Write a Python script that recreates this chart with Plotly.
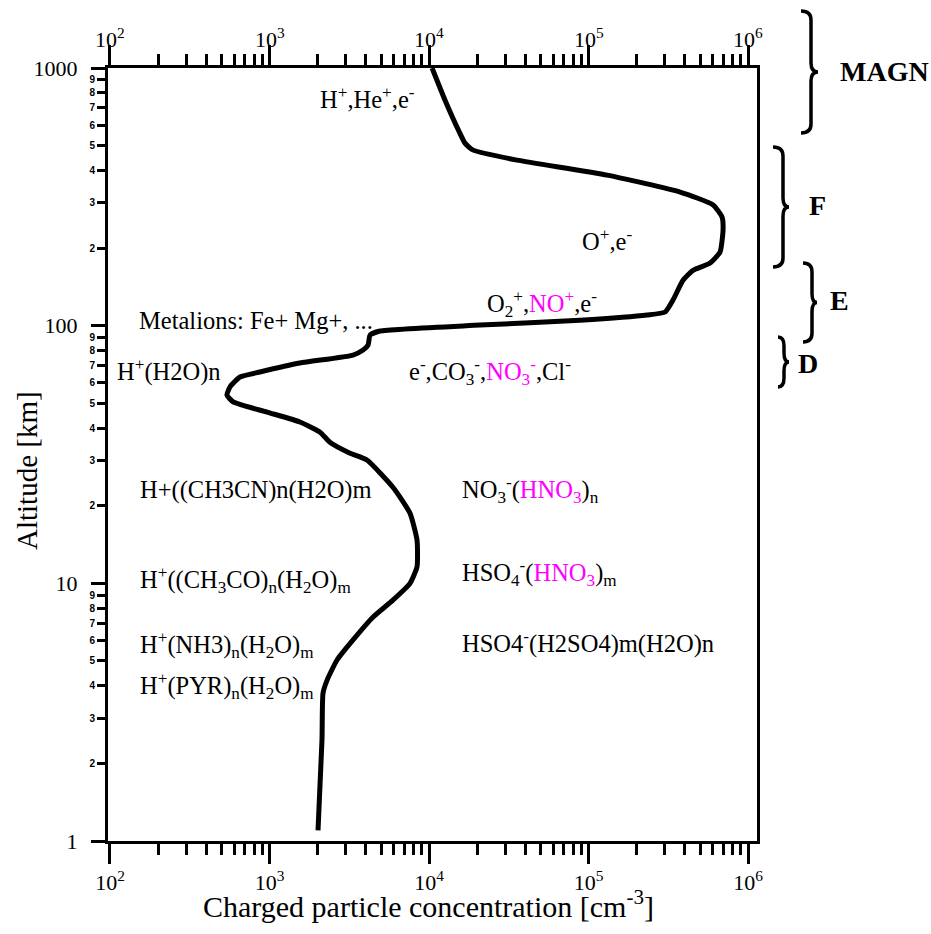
import math
import plotly.graph_objects as go

# ---------------- data ----------------
concentration = [10450, 12600, 15600, 16800, 18900, 35600, 130600, 375000, 604000, 687000,
                 697000, 667000, 578000, 452000, 391000, 339000, 302000, 233000, 88500, 20900,
                 4930, 4270, 4150, 3860, 3340, 1550, 871, 653, 565, 541,
                 591, 964, 1550, 2075, 2390, 3200, 4080, 5940, 7600, 8410,
                 8410, 7600, 5940, 4460, 3340, 2650, 2300, 2165, 2133, 2014]
altitude = [1000, 750, 559, 511, 480, 439, 384, 330, 294, 264,
            235, 193, 175, 164, 150, 126, 113, 110, 105, 100.5,
            95.3, 92.0, 84.1, 80.4, 76.9, 71.6, 66.1, 63.2, 57.8, 53.8,
            50.6, 46.2, 42.3, 38.6, 35.3, 32.0, 30.1, 23.6, 18.7, 14.7,
            11.6, 10.0, 8.61, 7.40, 6.03, 5.04, 4.22, 3.75, 2.47, 1.10]

x_major = [1e2, 1e3, 1e4, 1e5, 1e6]
x_major_text = ["10<sup>2</sup>", "10<sup>3</sup>", "10<sup>4</sup>", "10<sup>5</sup>", "10<sup>6</sup>"]
x_minor = [m * 10 ** e for e in range(2, 6) for m in range(2, 10)]

y_major = [1, 10, 100, 1000]
y_major_text = ["1", "10", "100", "1000"]
y_minor = [m * 10 ** e for e in range(0, 3) for m in range(2, 10)]
y_minor_text = [str(m) for e in range(0, 3) for m in range(2, 10)]

MAG = "#ff00ff"
def mg(s):
    return "<span style='color:%s'>%s</span>" % (MAG, s)

species_labels = [
    "H<sup>+</sup>,He<sup>+</sup>,e<sup>-</sup>",
    "O<sup>+</sup>,e<sup>-</sup>",
    "O<sub>2</sub><sup>+</sup>," + mg("NO<sup>+</sup>") + ",e<sup>-</sup>",
    "Metalions: Fe+ Mg+, ...",
    "H<sup>+</sup>(H2O)n",
    "e<sup>-</sup>,CO<sub>3</sub><sup>-</sup>," + mg("NO<sub>3</sub><sup>-</sup>") + ",Cl<sup>-</sup>",
    "H+((CH3CN)n(H2O)m",
    "NO<sub>3</sub><sup>-</sup>(" + mg("HNO<sub>3</sub>") + ")<sub>n</sub>",
    "H<sup>+</sup>((CH<sub>3</sub>CO)<sub>n</sub>(H<sub>2</sub>O)<sub>m</sub>",
    "HSO<sub>4</sub><sup>-</sup>(" + mg("HNO<sub>3</sub>") + ")<sub>m</sub>",
    "H<sup>+</sup>(NH3)<sub>n</sub>(H<sub>2</sub>O)<sub>m</sub>",
    "HSO4<sup>-</sup>(H2SO4)m(H2O)n",
    "H<sup>+</sup>(PYR)<sub>n</sub>(H<sub>2</sub>O)<sub>m</sub>",
]
region_labels = ["MAGN", "F", "E", "D"]

# ---------------- layout geometry (pixels) ----------------
W, H = 931, 934
L, R, T, B = 108, 757, 68, 841

def px(xp):
    return (xp - L) / (R - L)

def py(yp):
    return (B - yp) / (B - T)

species_pos = [(318, 98), (580, 240), (485, 304), (137, 320), (115, 370), (407, 372),
               (138, 490), (460, 490), (138, 580), (460, 573), (138, 645), (460, 642), (138, 686)]
region_pos = [(838, 71), (807, 205), (828, 300), (796, 363)]
braces = [(801, 811, 818, 11, 133), (773, 783, 789, 147, 267),
          (803, 812, 817, 263, 342), (778, 784, 789, 337, 387)]

FONT = "'Liberation Serif', 'Times New Roman', 'DejaVu Serif', serif"

fig = go.Figure()
fig.add_trace(go.Scatter(x=concentration, y=altitude, mode="lines",
                         line=dict(color="black", width=5, shape="spline", smoothing=0.5),
                         hoverinfo="skip", showlegend=False))

xr = [1.9875, 6.056]
common_x = dict(type="log", range=xr, tickmode="array", tickvals=x_major, ticktext=x_major_text,
                ticks="outside", ticklen=20, tickwidth=3, tickcolor="black",
                minor=dict(tickmode="array", tickvals=x_minor, ticks="outside", ticklen=11,
                           tickwidth=3, tickcolor="black"),
                showline=True, linewidth=3, linecolor="black", showgrid=False, zeroline=False,
                tickfont=dict(family=FONT, size=22, color="black"))

fig.update_layout(
    width=W, height=H,
    margin=dict(l=L, r=W - R, t=T, b=H - B, pad=0),
    paper_bgcolor="white", plot_bgcolor="white",
    showlegend=False,
    font=dict(family=FONT),
    xaxis=dict(**common_x, side="bottom", anchor="y", ticklabelstandoff=0),
    xaxis2=dict(**common_x, side="top", overlaying="x", anchor="y", showticklabels=False),
    yaxis=dict(type="log", range=[0, 3], tickmode="array", tickvals=y_major, ticktext=y_major_text,
               ticks="outside", ticklen=14, tickwidth=3, tickcolor="black",
               showline=True, linewidth=3, linecolor="black", mirror=True,
               showgrid=False, zeroline=False, ticklabelstandoff=9,
               tickfont=dict(family=FONT, size=22, color="black")),
    yaxis3=dict(type="log", range=[0, 3], overlaying="y", side="left", anchor="x",
                tickmode="array", tickvals=y_minor, ticktext=y_minor_text,
                ticks="outside", ticklen=10, tickwidth=3, tickcolor="black",
                showline=False, showgrid=False, zeroline=False, ticklabelstandoff=0,
                tickfont=dict(family="Liberation Sans", size=10, color="black", weight="bold")),
)
# invisible helper traces so the overlay axes are active
fig.add_trace(go.Scatter(x=[1e3], y=[10], xaxis="x2", yaxis="y", mode="markers",
                         marker=dict(opacity=0), hoverinfo="skip", showlegend=False))
fig.add_trace(go.Scatter(x=[1e3], y=[10], xaxis="x", yaxis="y3", mode="markers",
                         marker=dict(opacity=0), hoverinfo="skip", showlegend=False))

ann = []
# top-axis tick labels, placed on the x scale (log axis -> log10 position)
for v, t in zip(x_major, x_major_text):
    ann.append(dict(text=t, x=math.log10(v), xref="x", y=py(54), yref="paper",
                    xanchor="center", yanchor="bottom", showarrow=False,
                    font=dict(family=FONT, size=22, color="black")))
for txt, (xp, yp) in zip(species_labels, species_pos):
    ann.append(dict(text=txt, x=px(xp), y=py(yp), xref="paper", yref="paper",
                    xanchor="left", yanchor="middle", showarrow=False,
                    font=dict(family=FONT, size=24.5, color="black")))
for txt, (xp, yp) in zip(region_labels, region_pos):
    ann.append(dict(text="<b>%s</b>" % txt, x=px(xp), y=py(yp), xref="paper", yref="paper",
                    xanchor="left", yanchor="middle", showarrow=False,
                    font=dict(family=FONT, size=28, color="black")))
ann.append(dict(text="Charged particle concentration [cm<sup>-3</sup>]", x=px(428), y=py(904),
                xref="paper", yref="paper", xanchor="center", yanchor="middle", showarrow=False,
                font=dict(family=FONT, size=30, color="black")))
ann.append(dict(text="Altitude [km]", x=px(27), y=py(471), textangle=-90,
                xref="paper", yref="paper", xanchor="center", yanchor="middle", showarrow=False,
                font=dict(family=FONT, size=29, color="black")))
fig.update_layout(annotations=ann)

shapes = []
for xl, xs, xt, yt, yb in braces:
    ym = (yt + yb) / 2.0
    r = 9
    pts = [
        "M %f,%f" % (px(xl), py(yt)),
        "Q %f,%f %f,%f" % (px(xs), py(yt), px(xs), py(yt + r)),
        "L %f,%f" % (px(xs), py(ym - r)),
        "Q %f,%f %f,%f" % (px(xs), py(ym), px(xt), py(ym)),
        "Q %f,%f %f,%f" % (px(xs), py(ym), px(xs), py(ym + r)),
        "L %f,%f" % (px(xs), py(yb - r)),
        "Q %f,%f %f,%f" % (px(xs), py(yb), px(xl), py(yb)),
    ]
    shapes.append(dict(type="path", path=" ".join(pts), xref="paper", yref="paper",
                       line=dict(color="black", width=3.5)))
fig.update_layout(shapes=shapes)

fig.write_html("out.html", config={"displayModeBar": False},
               post_script="document.body.style.margin='0';document.body.style.overflow='hidden';")
